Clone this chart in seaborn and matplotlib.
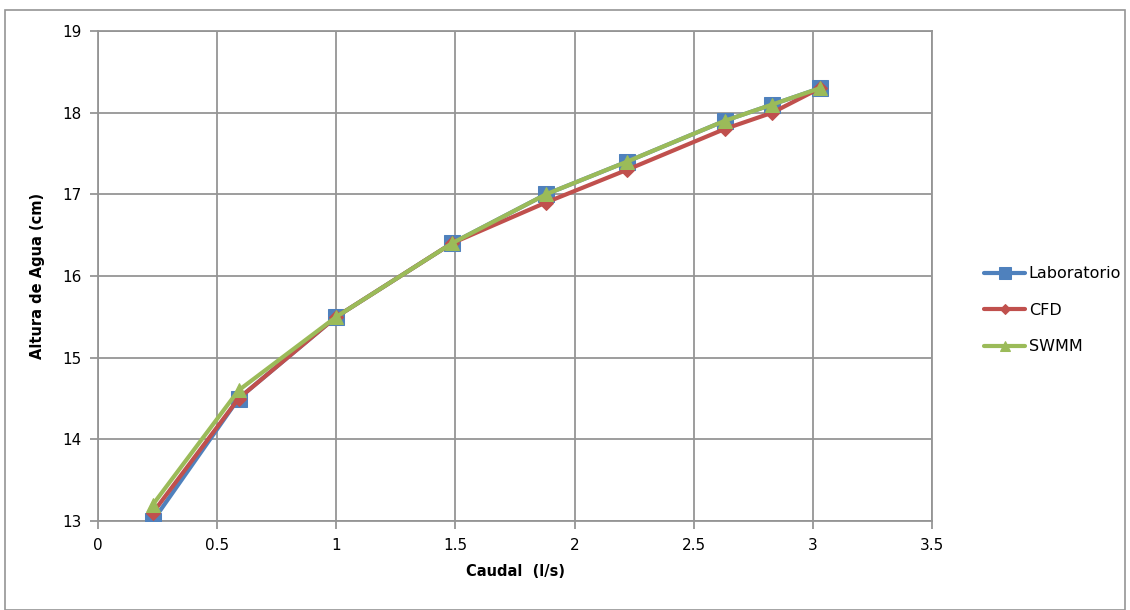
import numpy as np
import pandas as pd
import matplotlib
matplotlib.use("Agg")
import matplotlib.pyplot as plt
import seaborn as sns
from matplotlib.patches import Rectangle

# Datos
caudal = [0.23, 0.59, 1.0, 1.485, 1.88, 2.22, 2.63, 2.83, 3.03]
laboratorio = [13.0, 14.5, 15.5, 16.4, 17.0, 17.4, 17.9, 18.1, 18.3]
cfd = [13.1, 14.5, 15.5, 16.4, 16.9, 17.3, 17.8, 18.0, 18.3]
swmm = [13.2, 14.6, 15.5, 16.4, 17.0, 17.4, 17.9, 18.1, 18.3]
series = ["Laboratorio", "CFD", "SWMM"]
x_ticks = [0, 0.5, 1, 1.5, 2, 2.5, 3, 3.5]
y_ticks = [13, 14, 15, 16, 17, 18, 19]

df = pd.DataFrame({
    "Caudal": caudal * 3,
    "Altura": laboratorio + cfd + swmm,
    "Serie": [s for s in series for _ in caudal],
})

colores = {"Laboratorio": "#4F81BD", "CFD": "#C0504D", "SWMM": "#9BBB59"}
marcadores = {"Laboratorio": "s", "CFD": "D", "SWMM": "^"}
tamanos = {"Laboratorio": 11, "CFD": 7, "SWMM": 10}

sns.set_style("white")
plt.rcParams["font.family"] = ["DejaVu Sans"]
plt.rcParams["text.color"] = "black"
plt.rcParams["axes.labelcolor"] = "black"
plt.rcParams["xtick.color"] = "black"
plt.rcParams["ytick.color"] = "black"

fig = plt.figure(figsize=(11.3, 6.1), dpi=100)
ax = fig.add_axes([98 / 1130, 1 - 521 / 610, (932 - 98) / 1130, (521 - 31) / 610])

for s in series:
    sns.lineplot(data=df[df["Serie"] == s], x="Caudal", y="Altura", ax=ax,
                 color=colores[s], marker=marcadores[s], markersize=tamanos[s],
                 markeredgecolor=colores[s], linewidth=3, label=s, zorder=3)

ax.set_xlim(0, 3.5)
ax.set_ylim(13, 19)
ax.set_xticks(x_ticks)
ax.set_xticklabels([f"{t:g}" for t in x_ticks])
ax.set_yticks(y_ticks)
ax.grid(True, color="#959595", linewidth=1.3)
for sp in ax.spines.values():
    sp.set_color("#959595")
    sp.set_linewidth(1.3)
ax.tick_params(axis="both", direction="out", length=6, width=1.3, color="#959595",
               labelcolor="black", labelsize=11, left=True, bottom=True, pad=6)
ax.set_xlabel("Caudal  (l/s)", fontsize=10.5, fontweight="bold", labelpad=8)
ax.set_ylabel("Altura de Agua (cm)", fontsize=10.5, fontweight="bold", labelpad=12)

leg = ax.legend(loc="center left", bbox_to_anchor=(1.045, 0.43), frameon=False,
                fontsize=11.5, handlelength=2.6, handletextpad=0.2, labelspacing=1.35,
                markerscale=0.75)

fig.patches.append(Rectangle((5 / 1130, 0), 1120 / 1130, 1 - 10 / 610,
                             transform=fig.transFigure, fill=False,
                             edgecolor="#959595", linewidth=1.2))

fig.savefig("out.png", dpi=100)
